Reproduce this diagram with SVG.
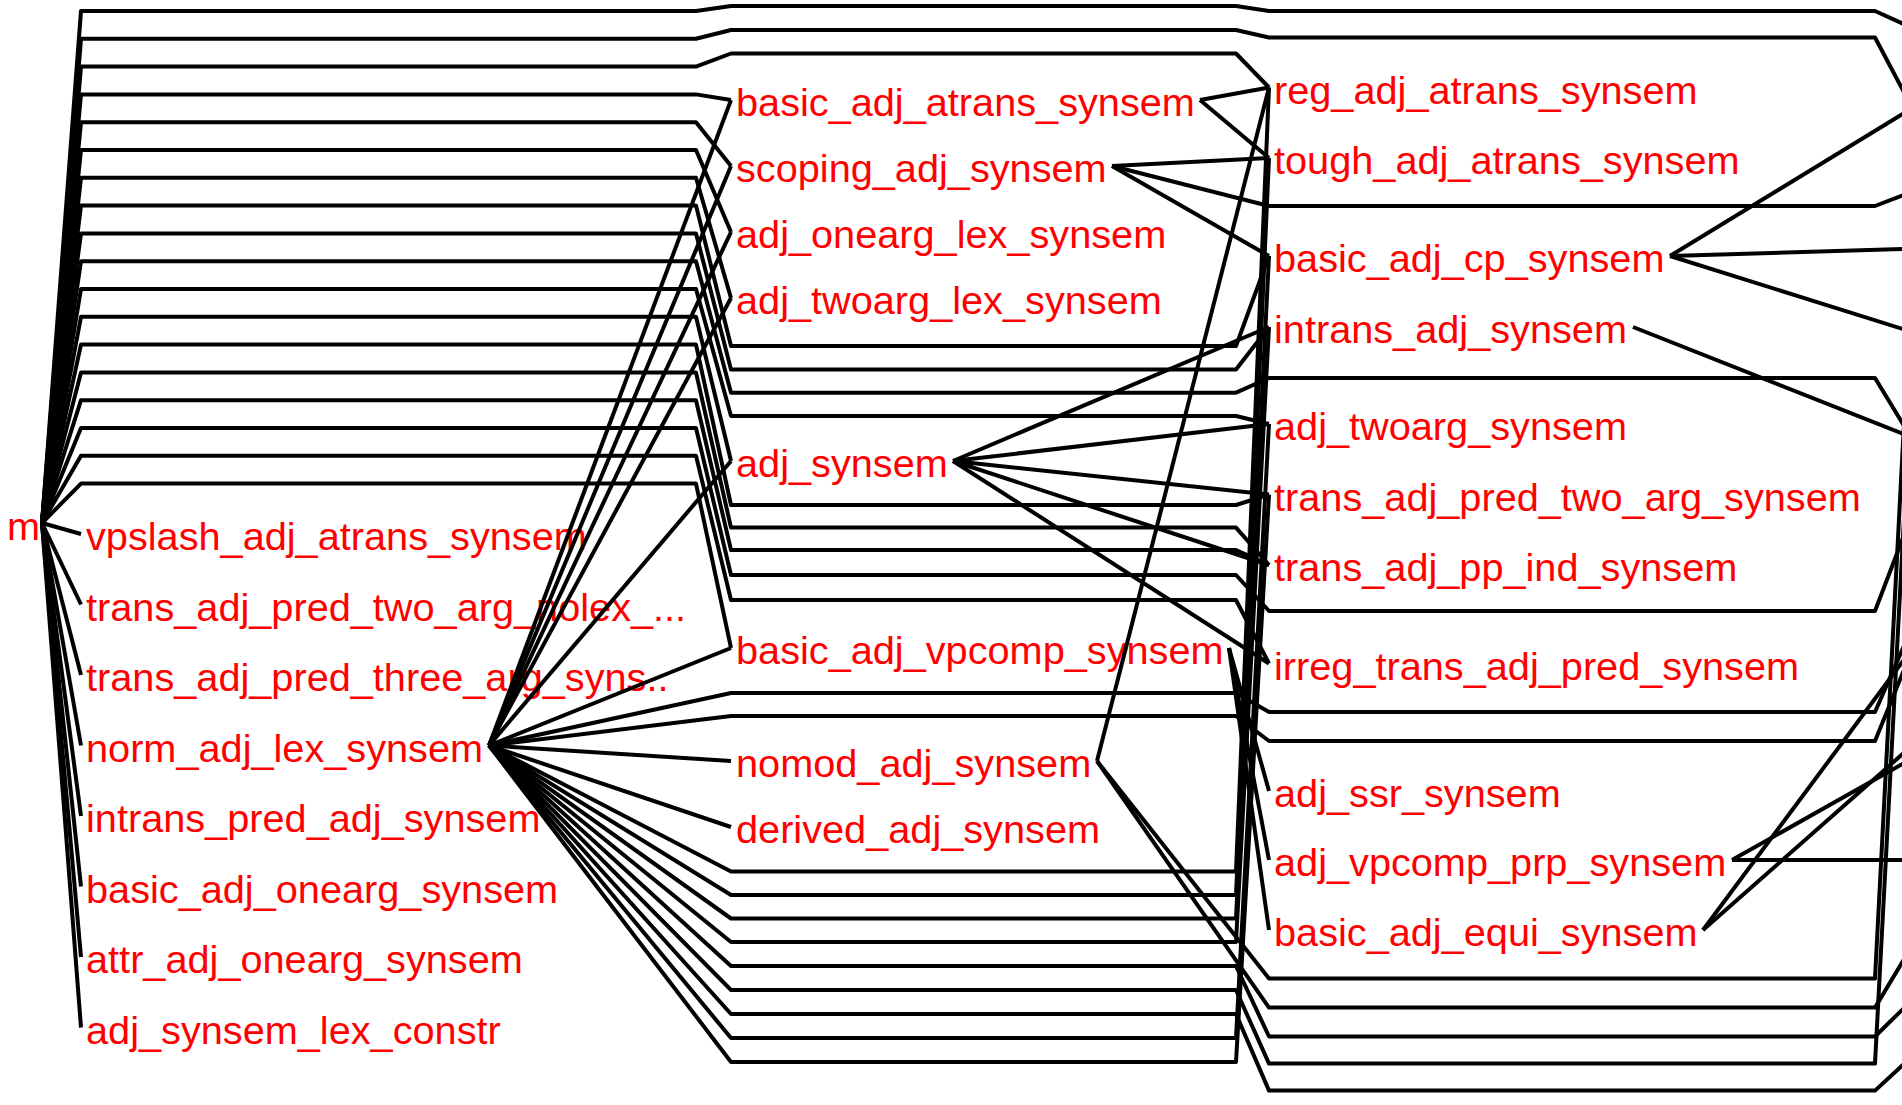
<svg xmlns="http://www.w3.org/2000/svg" width="1902" height="1105" viewBox="0 0 1902 1105">
<style>
text{font-family:"Liberation Sans",Arial,Helvetica,sans-serif;font-size:39.7px;fill:#ff0000}
#edges polyline{fill:none;stroke:#000;stroke-width:4;stroke-linejoin:round}
</style>
<rect width="1902" height="1105" fill="#fff"/>
<g id="nodes">
<g id="n-root"><text x="40" y="540" text-anchor="end">m</text></g>
<g id="n-vpslash"><text x="86" y="550">vpslash_adj_atrans_synsem</text></g>
<g id="n-tapt-nolex"><text x="86" y="620.5">trans_adj_pred_two_arg_nolex_...</text></g>
<g id="n-tap-three"><text x="86" y="691">trans_adj_pred_three_arg_syns..</text></g>
<g id="n-norm"><text x="86" y="761.5">norm_adj_lex_synsem</text></g>
<g id="n-intrans-pred"><text x="86" y="832">intrans_pred_adj_synsem</text></g>
<g id="n-basic-onearg"><text x="86" y="902.5">basic_adj_onearg_synsem</text></g>
<g id="n-attr-onearg"><text x="86" y="973">attr_adj_onearg_synsem</text></g>
<g id="n-lex-constr"><text x="86" y="1043.5">adj_synsem_lex_constr</text></g>
<g id="n-basic-atrans"><text x="736" y="116">basic_adj_atrans_synsem</text></g>
<g id="n-scoping"><text x="736" y="182">scoping_adj_synsem</text></g>
<g id="n-onearg-lex"><text x="736" y="248">adj_onearg_lex_synsem</text></g>
<g id="n-twoarg-lex"><text x="736" y="314">adj_twoarg_lex_synsem</text></g>
<g id="n-adj-synsem"><text x="736" y="477">adj_synsem</text></g>
<g id="n-basic-vpcomp"><text x="736" y="664">basic_adj_vpcomp_synsem</text></g>
<g id="n-nomod"><text x="736" y="777">nomod_adj_synsem</text></g>
<g id="n-derived"><text x="736" y="843">derived_adj_synsem</text></g>
<g id="n-reg-atrans"><text x="1274" y="103.5">reg_adj_atrans_synsem</text></g>
<g id="n-tough"><text x="1274" y="174">tough_adj_atrans_synsem</text></g>
<g id="n-basic-cp"><text x="1274" y="272">basic_adj_cp_synsem</text></g>
<g id="n-intrans"><text x="1274" y="343">intrans_adj_synsem</text></g>
<g id="n-twoarg"><text x="1274" y="440">adj_twoarg_synsem</text></g>
<g id="n-tap-two"><text x="1274" y="510.6">trans_adj_pred_two_arg_synsem</text></g>
<g id="n-pp-ind"><text x="1274" y="581">trans_adj_pp_ind_synsem</text></g>
<g id="n-irreg"><text x="1274" y="679.5">irreg_trans_adj_pred_synsem</text></g>
<g id="n-ssr"><text x="1274" y="807">adj_ssr_synsem</text></g>
<g id="n-vpcomp-prp"><text x="1274" y="876">adj_vpcomp_prp_synsem</text></g>
<g id="n-equi"><text x="1274" y="946">basic_adj_equi_synsem</text></g>
</g>
<g id="edges">
<!-- root to column 1 -->
<polyline points="42,523 81,534"/>
<polyline points="42,523 81,604.5"/>
<polyline points="42,523 81,675"/>
<polyline points="42,523 81,745.5"/>
<polyline points="42,523 81,816"/>
<polyline points="42,523 81,886.5"/>
<polyline points="42,523 81,957"/>
<polyline points="42,523 81,1027.5"/>
<!-- root long edges -->
<polyline points="42,523 81,11 696,11 731,6 1236,6 1269,11 1875,11 1906,25"/>
<polyline points="42,523 81,38.8 696,38.8 731,30 1236,30 1269,37.5 1875,37.5 1906,96"/>
<polyline points="42,523 81,66.6 696,66.6 731,53.5 1236,53.5 1269,87.5"/>
<polyline points="42,523 81,94.4 696,94.4 731,100"/>
<polyline points="42,523 81,122.2 696,122.2 731,166"/>
<polyline points="42,523 81,150 696,150 731,232"/>
<polyline points="42,523 81,177.8 696,177.8 731,298"/>
<polyline points="42,523 81,205.6 696,205.6 731,346 1236,346 1269,256"/>
<polyline points="42,523 81,233.4 696,233.4 731,369.5 1236,369.5 1269,327"/>
<polyline points="42,523 81,261.2 696,261.2 731,392.7 1236,392.7 1269,378 1875,378 1906,429"/>
<polyline points="42,523 81,289 696,289 731,416 1236,416 1269,424"/>
<polyline points="42,523 81,316.8 696,316.8 731,461"/>
<polyline points="42,523 81,344.6 696,344.6 731,505 1236,505 1269,494.6"/>
<polyline points="42,523 81,372.4 696,372.4 731,527.6 1236,527.6 1269,565"/>
<polyline points="42,523 81,400.2 696,400.2 731,550 1236,550 1269,565"/>
<polyline points="42,523 81,428 696,428 731,575 1236,575 1269,611 1875,611 1906,530"/>
<polyline points="42,523 81,455.8 696,455.8 731,600 1236,600 1269,663.5"/>
<polyline points="42,523 81,483.6 696,483.6 731,648"/>
<!-- norm_adj_lex_synsem -->
<polyline points="489,745.5 731,100"/>
<polyline points="489,745.5 731,166"/>
<polyline points="489,745.5 731,232"/>
<polyline points="489,745.5 731,298"/>
<polyline points="489,745.5 731,461"/>
<polyline points="489,745.5 731,648"/>
<polyline points="489,745.5 731,693 1236,693 1269,712 1875,712 1906,641"/>
<polyline points="489,745.5 731,716 1236,716 1269,741 1875,741 1906,665"/>
<polyline points="489,745.5 731,761"/>
<polyline points="489,745.5 731,827"/>
<polyline points="489,745.5 731,871.5 1236,871.5 1269,87.5"/>
<polyline points="489,745.5 731,895 1236,895 1269,158"/>
<polyline points="489,745.5 731,918.5 1236,918.5 1269,256"/>
<polyline points="489,745.5 731,942 1236,942 1269,327"/>
<polyline points="489,745.5 731,966 1236,966 1269,1036.5 1875,1036.5 1906,1006"/>
<polyline points="489,745.5 731,990 1236,990 1269,1063.6 1875,1063.6 1906,480"/>
<polyline points="489,745.5 731,1014 1236,1014 1269,1090.6 1875,1090.6 1906,1062"/>
<polyline points="489,745.5 731,1038 1236,1038 1269,424"/>
<polyline points="489,745.5 731,1062 1236,1062 1269,494.6"/>
<!-- basic_adj_atrans_synsem -->
<polyline points="1200,100 1269,87.5"/>
<polyline points="1200,100 1269,158"/>
<!-- scoping_adj_synsem -->
<polyline points="1112,166 1269,158"/>
<polyline points="1112,166 1269,206 1875,206 1906,194"/>
<polyline points="1112,166 1269,256"/>
<!-- adj_synsem -->
<polyline points="953,461 1269,327"/>
<polyline points="953,461 1269,424"/>
<polyline points="953,461 1269,494.6"/>
<polyline points="953,461 1269,565"/>
<polyline points="953,461 1269,663.5"/>
<!-- basic_adj_vpcomp_synsem -->
<polyline points="1229,648 1269,791"/>
<polyline points="1229,648 1269,860"/>
<polyline points="1229,648 1269,930"/>
<!-- nomod_adj_synsem -->
<polyline points="1097,761 1269,87.5"/>
<polyline points="1097,761 1269,978.6 1875,978.6 1906,385"/>
<polyline points="1097,761 1269,1007.6 1875,1007.6 1906,956"/>
<!-- column 3 outgoing -->
<polyline points="1670,256 1906,112"/>
<polyline points="1670,256 1906,249"/>
<polyline points="1670,256 1906,330"/>
<polyline points="1633,327 1906,435"/>
<polyline points="1732,860 1906,860"/>
<polyline points="1732,860 1906,762"/>
<polyline points="1703,930 1906,657"/>
<polyline points="1703,930 1906,751"/>
</g>
</svg>
